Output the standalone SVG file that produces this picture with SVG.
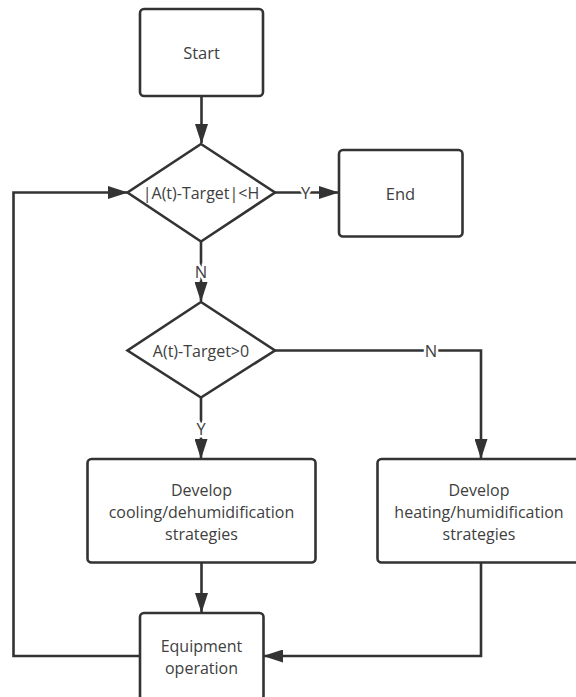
<svg xmlns="http://www.w3.org/2000/svg" width="576" height="697" viewBox="0 0 576 697">
  <style>
    .box { fill: #ffffff; stroke: #333333; stroke-width: 2.6; }
    .txt { font-family: "Open Sans", "Liberation Sans", sans-serif; font-size: 16px; fill: #404040; text-anchor: middle; dominant-baseline: central; }
    .wide { font-size: 16.5px; }
    .edge { fill: none; stroke: #333333; stroke-width: 2.6; }
    .lbl { font-family: "Open Sans", "Liberation Sans", sans-serif; font-size: 16.5px; fill: #404040; text-anchor: middle; dominant-baseline: central; stroke: #ffffff; stroke-width: 5; paint-order: stroke; }
  </style>
  <defs>
    <marker id="arrow" markerUnits="userSpaceOnUse" markerWidth="20" markerHeight="13" refX="19" refY="6.5" orient="auto">
      <path d="M0,0 L20,6.5 L0,13 z" fill="#333333"/>
    </marker>
  </defs>
  <rect width="576" height="697" fill="#ffffff"/>

  <!-- connectors -->
  <g id="connectors">
    <path class="edge" d="M201.5,96 V143" marker-end="url(#arrow)"/>
    <path class="edge" d="M275,192.5 H338" marker-end="url(#arrow)"/>
    <path class="edge" d="M201,242 V301" marker-end="url(#arrow)"/>
    <path class="edge" d="M201,398 V458" marker-end="url(#arrow)"/>
    <path class="edge" d="M275,350.5 H481 V458" marker-end="url(#arrow)"/>
    <path class="edge" d="M201.5,563 V612" marker-end="url(#arrow)"/>
    <path class="edge" d="M481,563 V656 H264" marker-end="url(#arrow)"/>
    <path class="edge" d="M140,656 H13.5 V192.5 H127" marker-end="url(#arrow)"/>
    <text class="lbl" x="305.5" y="192.5">Y</text>
    <text class="lbl" x="201" y="271">N</text>
    <text class="lbl" x="201" y="428">Y</text>
    <text class="lbl" x="431" y="350.5">N</text>
  </g>

  <g id="start">
    <rect class="box" x="140" y="9" width="123" height="87" rx="4"/>
    <text class="txt wide" x="201.5" y="52.5">Start</text>
  </g>

  <g id="check-threshold">
    <polygon class="box" points="201,144 275,192.5 201,241.5 127.5,192.5"/>
    <text class="txt" x="201" y="192.5">|A(t)-Target|&lt;H</text>
  </g>

  <g id="end">
    <rect class="box" x="339" y="150" width="123.5" height="86.5" rx="4"/>
    <text class="txt wide" x="400.5" y="193">End</text>
  </g>

  <g id="check-sign">
    <polygon class="box" points="201,302 275,350.5 201,397.5 127.5,350.5"/>
    <text class="txt" x="201" y="350.5">A(t)-Target&gt;0</text>
  </g>

  <g id="cooling">
    <rect class="box" x="87.5" y="459" width="228" height="103.5" rx="4"/>
    <text class="txt" x="201.5" y="489.5">Develop</text>
    <text class="txt" x="201.5" y="511.5">cooling/dehumidification</text>
    <text class="txt" x="201.5" y="533.5">strategies</text>
  </g>

  <g id="heating">
    <rect class="box" x="377.5" y="459" width="208" height="103.5" rx="4"/>
    <text class="txt" x="479" y="489.5">Develop</text>
    <text class="txt" x="479" y="511.5">heating/humidification</text>
    <text class="txt" x="479" y="533.5">strategies</text>
  </g>

  <g id="equipment">
    <rect class="box" x="140" y="613" width="123.5" height="87" rx="4"/>
    <text class="txt" x="201.5" y="646">Equipment</text>
    <text class="txt" x="201.5" y="668">operation</text>
  </g>
</svg>
